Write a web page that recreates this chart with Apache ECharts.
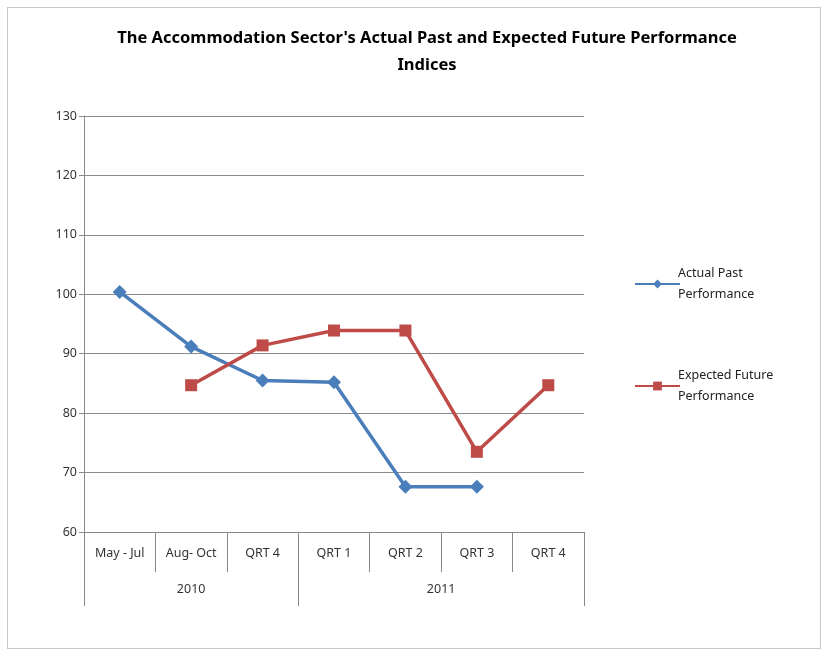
<!DOCTYPE html>
<html>
<head>
<meta charset="utf-8">
<title>Accommodation Sector Performance Indices</title>
<script src="https://cdn.jsdelivr.net/npm/echarts@6/dist/echarts.min.js"></script>
<style>
  html, body { margin: 0; padding: 0; background: #fff; }
  #frame { position: absolute; left: 7px; top: 7px; width: 814px; height: 642px; border: 1px solid #c8c8c8; box-sizing: border-box; }
  #chart { position: absolute; left: 0; top: 0; width: 828px; height: 657px; }
</style>
</head>
<body>
<div id="frame"></div>
<div id="chart"></div>
<script>
// Periods on the inner axis row, years on the outer row
const periods = ['May - Jul', 'Aug- Oct', 'QRT 4', 'QRT 1', 'QRT 2', 'QRT 3', 'QRT 4'];
const years = ['2010', '2011'];
// Index values per period (null = no reading for that period)
const actualPast = [100.4, 91.2, 85.5, 85.2, 67.6, 67.6, null];
const expectedFuture = [null, 84.7, 91.4, 93.9, 93.9, 73.5, 84.7];
const yTicks = { min: 60, max: 130, step: 10 };

// Outer row: half-category slots so year labels sit at the middle of their span
const yearSpans = [3, 4];
const halfSlots = [];
const yearLabelAt = {};
const yearTickAt = new Set([0]);
let pos = 0;
yearSpans.forEach((span, i) => {
  yearLabelAt[pos + span] = years[i];
  pos += span * 2;
  yearTickAt.add(pos);
});
for (let i = 0; i <= pos; i++) halfSlots.push(yearLabelAt[i] || '');

const font = 'Noto Sans';
const chart = echarts.init(document.getElementById('chart'));
chart.setOption({
  animation: false,
  title: {
    text: "The Accommodation Sector's Actual Past and Expected Future Performance\nIndices",
    left: 422, top: 20, textAlign: 'center',
    textStyle: { fontFamily: font, fontSize: 16.5, fontWeight: 'bold', color: '#000', lineHeight: 27 }
  },
  legend: {
    orient: 'vertical', left: 629, top: 258, itemGap: 60,
    itemWidth: 45, itemHeight: 11,
    formatter: name => name.replace(' Performance', '\nPerformance'),
    textStyle: { fontFamily: font, fontSize: 12.5, color: '#222', lineHeight: 21, padding: [0, 0, 0, -7] }
  },
  grid: { left: 84, right: 244, top: 116, bottom: 125, containLabel: false },
  xAxis: [
    {
      type: 'category', data: periods, boundaryGap: true, position: 'bottom',
      axisLine: { lineStyle: { color: '#888', width: 1 } },
      axisTick: { show: true, alignWithLabel: false, length: 40, lineStyle: { color: '#888' } },
      axisLabel: { fontFamily: font, fontSize: 12.5, color: '#333', margin: 15 },
      splitLine: { show: false }
    },
    {
      type: 'category', data: halfSlots, boundaryGap: false, position: 'bottom',
      axisLine: { show: false },
      axisTick: { show: true, length: 74, interval: (i) => yearTickAt.has(i), lineStyle: { color: '#888' } },
      axisLabel: { interval: 0, fontFamily: font, fontSize: 12.5, color: '#333', margin: 51 },
      splitLine: { show: false }
    }
  ],
  yAxis: {
    type: 'value', min: yTicks.min, max: yTicks.max, interval: yTicks.step,
    axisLine: { show: true, lineStyle: { color: '#888' } },
    axisTick: { show: true, length: 5, lineStyle: { color: '#888' } },
    axisLabel: { fontFamily: font, fontSize: 12.5, color: '#333', margin: 7 },
    splitLine: { lineStyle: { color: '#8c8c8c', width: 1 } }
  },
  series: [
    {
      name: 'Actual Past Performance', type: 'line', data: actualPast, xAxisIndex: 0,
      symbol: 'diamond', symbolSize: 14, connectNulls: false,
      lineStyle: { color: '#4a7ebb', width: 3.5 },
      itemStyle: { color: '#4a7ebb' }
    },
    {
      name: 'Expected Future Performance', type: 'line', data: expectedFuture, xAxisIndex: 0,
      symbol: 'rect', symbolSize: 12, connectNulls: false,
      lineStyle: { color: '#be4b48', width: 3.5 },
      itemStyle: { color: '#be4b48' }
    }
  ]
});
</script>
</body>
</html>
